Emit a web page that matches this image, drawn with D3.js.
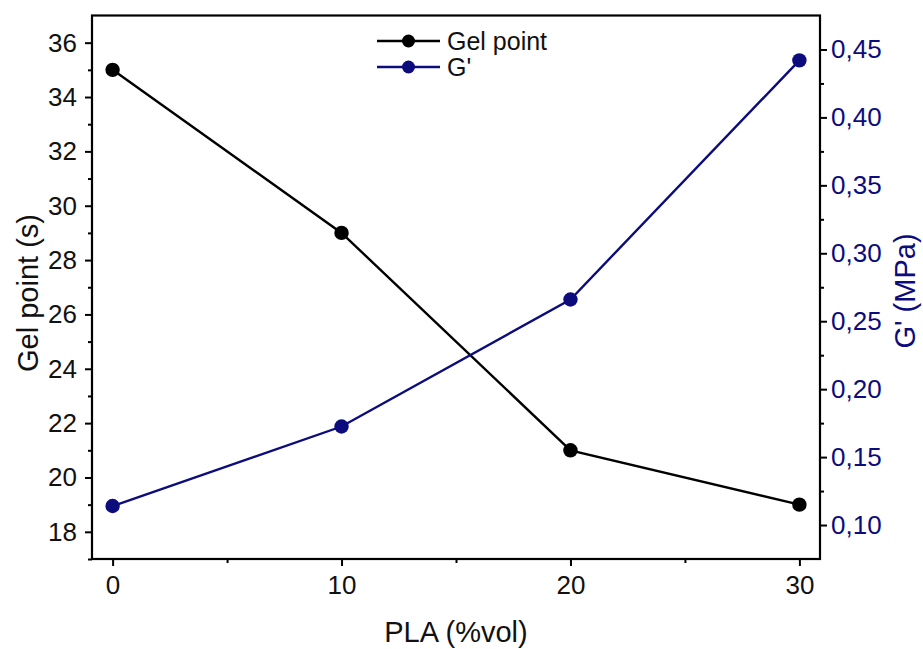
<!DOCTYPE html>
<html><head><meta charset="utf-8">
<script src="https://cdn.jsdelivr.net/npm/d3@7"></script>
<style>body{margin:0;background:#fff}svg{display:block}text{font-family:Arial,"Liberation Sans",sans-serif}</style>
</head><body>
<svg id="c" width="923" height="649"></svg>
<script>
const pla = [0, 10, 20, 30];
const gelPoint = [35, 29, 21, 19];
const gPrime = [0.114, 0.1725, 0.266, 0.442];
const xTicks = [0, 10, 20, 30];
const leftTicks = [18, 20, 22, 24, 26, 28, 30, 32, 34, 36];
const rightTicks = [0.10, 0.15, 0.20, 0.25, 0.30, 0.35, 0.40, 0.45];
const seriesNames = ["Gel point", "G'"];
const navy = "#0c0c7c";

const svg = d3.select("#c");
const L = 92, R = 820, T = 15.5, B = 559;
const x = d3.scaleLinear().domain([-0.9, 30.9]).range([L, R]);
const yL = d3.scaleLinear().domain([17, 37]).range([B, T]);
const yR = d3.scaleLinear().domain([0.075, 0.475]).range([B, T]);

const fs = 26;
// axes
const gx = svg.append("g").attr("transform", `translate(0,${B})`)
  .call(d3.axisBottom(x).tickValues(xTicks).tickSize(7).tickPadding(10).tickFormat(d3.format("d")));
const gxm = svg.append("g").attr("transform", `translate(0,${B})`)
  .call(d3.axisBottom(x).tickValues([5, 15, 25]).tickSize(4).tickFormat(""));
const gl = svg.append("g").attr("transform", `translate(${L},0)`)
  .call(d3.axisLeft(yL).tickValues(leftTicks).tickSize(7).tickPadding(8).tickFormat(d3.format("d")));
const glm = svg.append("g").attr("transform", `translate(${L},0)`)
  .call(d3.axisLeft(yL).tickValues(d3.range(17, 37, 2)).tickSize(4).tickFormat(""));
const commaFmt = d => d3.format(".2f")(d).replace(".", ",");
const gr = svg.append("g").attr("transform", `translate(${R},0)`)
  .call(d3.axisRight(yR).tickValues(rightTicks).tickSize(7).tickPadding(4).tickFormat(commaFmt));
const grm = svg.append("g").attr("transform", `translate(${R},0)`)
  .call(d3.axisRight(yR).tickValues([0.125, 0.175, 0.225, 0.275, 0.325, 0.375, 0.425]).tickSize(4).tickFormat(""));

[gx, gxm, gl, glm, gr, grm].forEach(g => {
  g.select(".domain").remove();
  g.selectAll("line").attr("stroke", "#000").attr("stroke-width", 2);
  g.selectAll("text").attr("font-size", fs).attr("fill", "#111");
});
gr.selectAll("text").attr("fill", navy);

// frame
svg.append("rect").attr("x", L).attr("y", T).attr("width", R - L).attr("height", B - T)
  .attr("fill", "none").attr("stroke", "#000").attr("stroke-width", 2.2);

// titles
svg.append("text").attr("x", (L + R) / 2).attr("y", 642).attr("text-anchor", "middle")
  .attr("font-size", 29).attr("fill", "#111").text("PLA (%vol)");
svg.append("text").attr("transform", `translate(38,293) rotate(-90)`).attr("text-anchor", "middle")
  .attr("font-size", 29).attr("fill", "#111").text("Gel point (s)");
svg.append("text").attr("transform", `translate(915,291) rotate(-90)`).attr("text-anchor", "middle")
  .attr("font-size", 29).attr("fill", navy).text("G' (MPa)");

// series
const series = [
  { vals: gelPoint, y: yL, color: "#000" },
  { vals: gPrime, y: yR, color: navy }
];
series.forEach(s => {
  const line = d3.line().x((d, i) => x(pla[i])).y(d => s.y(d));
  svg.append("path").datum(s.vals).attr("d", line).attr("fill", "none")
    .attr("stroke", s.color).attr("stroke-width", 2.4);
  svg.selectAll(null).data(s.vals).enter().append("circle")
    .attr("cx", (d, i) => x(pla[i])).attr("cy", d => s.y(d)).attr("r", 7.2).attr("fill", s.color);
});

// legend
const legY = [41, 67];
series.forEach((s, i) => {
  const g = svg.append("g").attr("transform", `translate(0,${legY[i]})`);
  g.append("line").attr("x1", 377).attr("x2", 440).attr("y1", 0).attr("y2", 0)
    .attr("stroke", s.color).attr("stroke-width", 2.4);
  g.append("circle").attr("cx", 408.5).attr("cy", 0).attr("r", 6.5).attr("fill", s.color);
  g.append("text").attr("x", 447).attr("y", 9).attr("font-size", 25).attr("fill", "#111").text(seriesNames[i]);
});
</script>
</body></html>
